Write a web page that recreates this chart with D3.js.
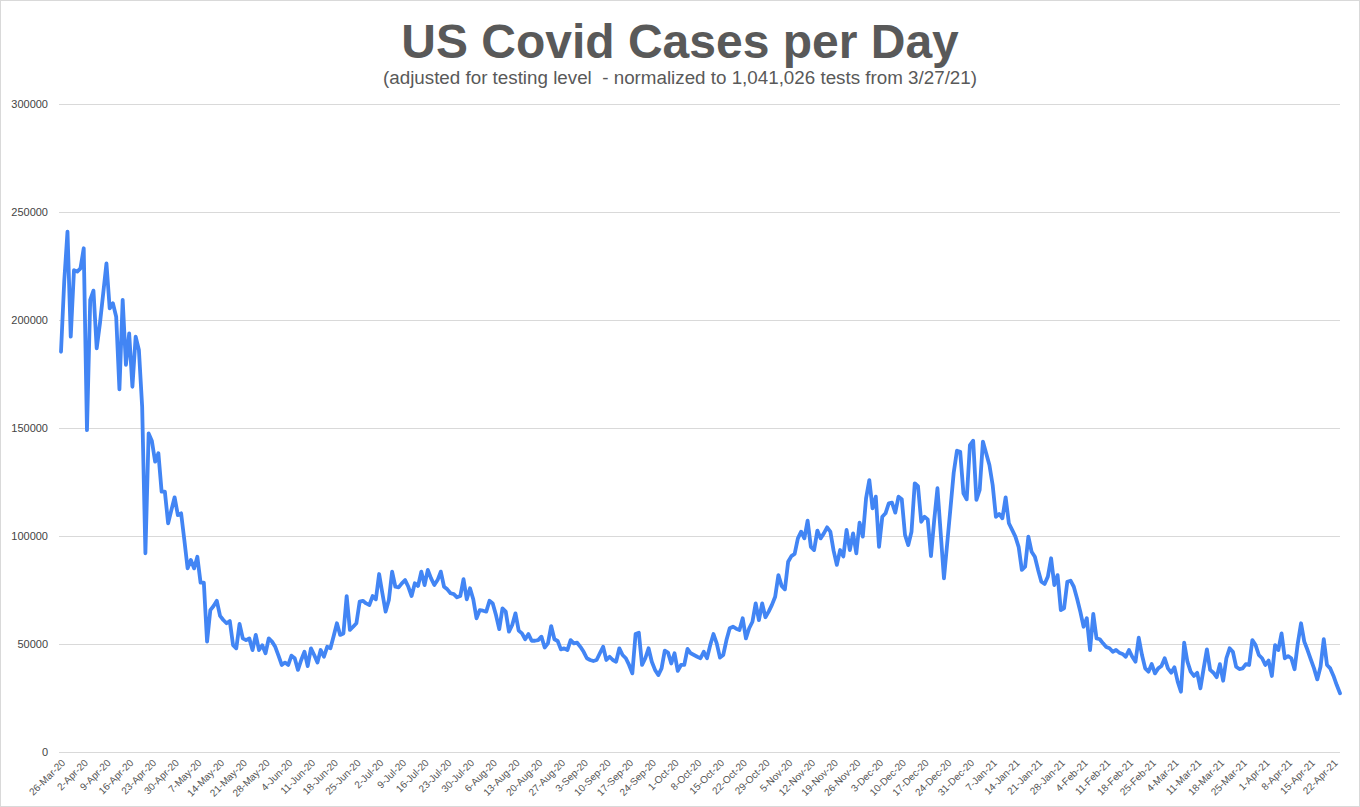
<!DOCTYPE html>
<html>
<head>
<meta charset="utf-8">
<script src="https://cdn.jsdelivr.net/npm/d3@7"></script>
<style>
  body { margin: 0; background: #fff; }
  svg { display: block; }
</style>
</head>
<body>
<div id="container"></div>
<script>
/* CONSTANTS AND GLOBALS */
const width = 1360,
  height = 807,
  gridLeft = 59,
  gridRight = 1340,
  font = "Arial, 'Liberation Sans', sans-serif";

/* DATA - adjusted cases per day, one array per month */
const mar20 = [185300, 218000, 240900, 192300, 223100, 222400];
const apr20 = [223900, 233200, 149000, 209300, 213600, 186900, 198500, 212300, 226200, 205400,
  207700, 201500, 167900, 209300, 179200, 193800, 169100, 192300, 186100, 159900,
  92000, 147500, 144000, 134400, 138300, 120500, 120500, 105900, 112000, 117900];
const may20 = [109700, 110500, 98100, 85000, 88900, 85000, 90400, 78400, 78400, 51100,
  65700, 67600, 70000, 63000, 61100, 59600, 60600, 49500, 48000, 59300,
  52600, 51800, 52600, 47200, 54200, 47200, 49400, 45700, 52600, 51100, 48700];
const jun20 = [44600, 40300, 41400, 40300, 44600, 43400, 38000, 42600, 46400, 39800,
  48000, 44900, 41400, 47200, 44100, 48700, 48000, 53700, 59600, 54200,
  54900, 72200, 56500, 58000, 59600, 69600, 70000, 68800, 68100, 72200];
const jul20 = [70700, 82400, 73500, 65000, 70400, 83500, 76500, 76200, 78100, 79600,
  76500, 72200, 78100, 76900, 83500, 77300, 84300, 80400, 77300, 79600,
  83500, 76500, 75300, 73500, 73100, 71600, 72200, 80000, 70700, 75800, 70700];
const aug20 = [61900, 65700, 65400, 65000, 70000, 68800, 63400, 56900, 66500, 65000,
  55700, 58800, 64200, 56200, 54900, 52200, 54600, 51500, 51500, 51800,
  53400, 48400, 50300, 58300, 52200, 51400, 47500, 48000, 47200, 51800, 50300];
const sep20 = [50600, 48700, 46400, 43400, 42600, 42100, 42600, 45700, 48700, 42600,
  44100, 42600, 41800, 48000, 44900, 43400, 40300, 36400, 54600, 55200,
  40300, 43400, 48000, 41800, 38000, 35600, 38700, 46900, 46000, 41000];
const oct20 = [45700, 37600, 40300, 40300, 47700, 45700, 44900, 44100, 43400, 46400,
  43400, 49500, 54600, 50300, 43700, 44900, 51800, 57300, 58000, 57100,
  56500, 61900, 52600, 57300, 60300, 68800, 61100, 68800, 62400, 65000, 68100];
const nov20 = [71900, 81900, 76900, 75300, 88100, 90700, 91700, 98900, 102000, 98900,
  107100, 95000, 93500, 102500, 98900, 101200, 104000, 102000, 93200, 86600,
  93500, 90500, 102800, 93500, 101200, 92000, 106200, 99700, 117400, 125900];
const dec20 = [112800, 118200, 95000, 108900, 110500, 115100, 115400, 110800, 118200, 117000,
  100500, 95800, 102000, 124400, 123100, 106600, 108900, 107700, 90700, 107400,
  122100, 101200, 80400, 96600, 112800, 129300, 139500, 139000, 119800, 117000, 142100];
const jan21 = [144100, 116700, 121300, 143700, 138300, 132900, 123600, 108900, 110200, 108200,
  117900, 105900, 102800, 99700, 95000, 84300, 85800, 99700, 92700, 90400,
  84300, 78800, 77800, 81200, 89700, 77300, 81900, 65700, 66500, 78800, 79300];
const feb21 = [76500, 71100, 65000, 58000, 61900, 47200, 63900, 52600, 52200, 50300,
  48600, 48000, 46400, 47200, 46000, 45400, 44100, 47200, 44100, 41800,
  52900, 44900, 38700, 37200, 40700, 36400, 38700, 39800];
const mar21 = [43400, 38700, 36700, 39200, 32600, 27900, 50600, 41800, 37200, 35200,
  36700, 29500, 38700, 47500, 38000, 36700, 34600, 40700, 33000, 43400,
  48000, 46400, 39500, 38400, 38700, 40700, 40300, 51800, 49500, 44900, 43400];
const apr21 = [40300, 42300, 35200, 49500, 47200, 54900, 43400, 44400, 43400, 38300,
  50300, 59600, 51100, 47200, 42900, 38700, 33600, 39500, 52200, 40300,
  38700, 35200, 31000, 27200];

const startDate = new Date(Date.UTC(2020, 2, 26));
const yTicks = [0, 50000, 100000, 150000, 200000, 250000, 300000];

const cases = [].concat(mar20, apr20, may20, jun20, jul20, aug20, sep20,
  oct20, nov20, dec20, jan21, feb21, mar21, apr21);
const days = cases.map((d, i) => d3.utcDay.offset(startDate, i));
// a label every 7th day
const xTicks = days.filter((d, i) => i % 7 === 0);

const svg = d3.select("#container")
  .append("svg")
  .attr("width", width)
  .attr("height", height);

// light frame round the chart
svg.append("rect")
  .attr("x", 0.5).attr("y", 0.5)
  .attr("width", width - 1).attr("height", height - 1)
  .attr("fill", "#fff")
  .attr("stroke", "#d9d9d9");

// SCALES
const y = d3.scaleLinear().domain([0, 300000]).range([752, 104]);
const x = d3.scaleUtc().domain(d3.extent(days)).range([61, 1340]);

// Y AXIS + GRIDLINES
const yAxis = svg.append("g")
  .attr("transform", `translate(${gridLeft},0)`)
  .call(d3.axisLeft(y)
    .tickValues(yTicks)
    .tickFormat(d3.format("d"))
    .tickSize(-(gridRight - gridLeft))
    .tickPadding(11));
yAxis.select(".domain").remove();
yAxis.selectAll("line").attr("stroke", "#d9d9d9");
yAxis.selectAll("text")
  .attr("fill", "#444")
  .style("font-family", font)
  .style("font-size", "11px");

// X AXIS - rotated date labels
const xAxis = svg.append("g")
  .attr("transform", `translate(0,${y(0)})`)
  .call(d3.axisBottom(x)
    .tickValues(xTicks)
    .tickFormat(d3.utcFormat("%-d-%b-%y"))
    .tickSize(0));
xAxis.select(".domain").remove();
xAxis.selectAll("text")
  .attr("y", 0)
  .attr("dy", "0.35em")
  .attr("text-anchor", "end")
  .attr("transform", "translate(2,9) rotate(-45)")
  .attr("fill", "#555")
  .style("font-family", font)
  .style("font-size", "10px");

// LINE
const line = d3.line()
  .x((d, i) => x(days[i]))
  .y(d => y(d));

svg.append("path")
  .datum(cases)
  .attr("fill", "none")
  .attr("stroke", "#4285F4")
  .attr("stroke-width", 3.8)
  .attr("stroke-linejoin", "round")
  .attr("stroke-linecap", "round")
  .attr("d", line);

// TITLES
svg.append("text")
  .attr("x", 680)
  .attr("y", 58)
  .attr("text-anchor", "middle")
  .attr("fill", "#595959")
  .style("font-family", font)
  .style("font-size", "48px")
  .style("font-weight", "bold")
  .text("US Covid Cases per Day");

svg.append("text")
  .attr("x", 680)
  .attr("y", 84)
  .attr("text-anchor", "middle")
  .attr("fill", "#595959")
  .style("font-family", font)
  .style("font-size", "18.8px")
  .style("white-space", "pre")
  .text("(adjusted for testing level  - normalized to 1,041,026 tests from 3/27/21)");
</script>
</body>
</html>
